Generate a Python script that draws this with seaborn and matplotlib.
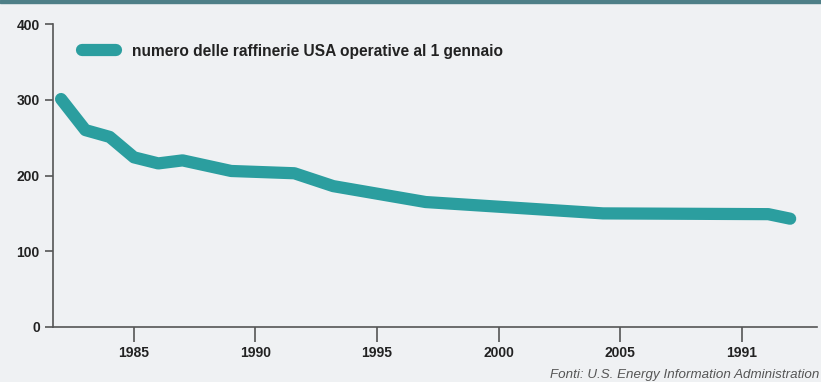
import matplotlib
matplotlib.use("Agg")
import matplotlib.pyplot as plt
import seaborn as sns
import pandas as pd
from matplotlib.patches import Rectangle

# Operable US refineries as of January 1
years = [1982, 1983, 1984, 1985, 1986, 1987, 1989, 1991.6, 1993.2, 1997, 2004.3, 2011.1, 2012]
refineries = [301, 260, 251, 224, 216, 220, 206, 203, 186, 165, 150, 149, 143]

tick_positions = [1985, 1990, 1995, 2000, 2005, 2010]
tick_labels = ["1985", "1990", "1995", "2000", "2005", "1991"]
y_ticks = [0, 100, 200, 300, 400]

series_label = "numero delle raffinerie USA operative al 1 gennaio"
source_note = "Fonti: U.S. Energy Information Administration"

bg = "#eff1f3"
teal = "#2b9e9f"
axis_col = "#555555"
text_col = "#222222"

sns.set_theme(style="white")
plt.rcParams["font.family"] = ["Liberation Sans", "DejaVu Sans"]

df = pd.DataFrame({"anno": years, "raffinerie": refineries})

fig = plt.figure(figsize=(8.21, 3.82), dpi=100, facecolor=bg)
ax = fig.add_axes([0.0646, 0.144, 0.9304, 0.793])
ax.set_facecolor(bg)

sns.lineplot(data=df, x="anno", y="raffinerie", ax=ax, color=teal, linewidth=8.8,
             solid_capstyle="round", solid_joinstyle="round", label=series_label)

ax.set_xlim(1981.67, 2013.1)
ax.set_ylim(0, 400)
ax.set_xticks(tick_positions)
ax.set_xticklabels(tick_labels)
ax.set_yticks(y_ticks)
ax.set_xlabel("")
ax.set_ylabel("")

for side in ["top", "right"]:
    ax.spines[side].set_visible(False)
for side in ["left", "bottom"]:
    ax.spines[side].set_color(axis_col)
    ax.spines[side].set_linewidth(1.2)

ax.tick_params(axis="x", direction="out", length=10.5, width=1.2, color=axis_col,
               pad=3.5, labelsize=10, labelcolor=text_col, bottom=True)
ax.tick_params(axis="y", direction="out", length=6, width=1.2, color=axis_col,
               pad=3.5, labelsize=10, labelcolor=text_col, left=True)
for lbl in ax.get_xticklabels() + ax.get_yticklabels():
    lbl.set_fontweight("bold")

leg = ax.legend(loc="upper left", bbox_to_anchor=(0.03, 0.955), frameon=False,
                handlelength=2.2, handletextpad=1.0, borderaxespad=0,
                prop={"weight": "bold", "size": 11.2})
for t in leg.get_texts():
    t.set_color(text_col)

fig.text(0.998, 0.002, source_note, ha="right", va="bottom", fontsize=9.6,
         style="italic", color="#555555")

# thin band along the top edge
fig.patches.append(Rectangle((0, 0.993), 1, 0.007, transform=fig.transFigure,
                             color="#4e7f87", zorder=10))

fig.savefig("out.png", dpi=100, facecolor=bg)
